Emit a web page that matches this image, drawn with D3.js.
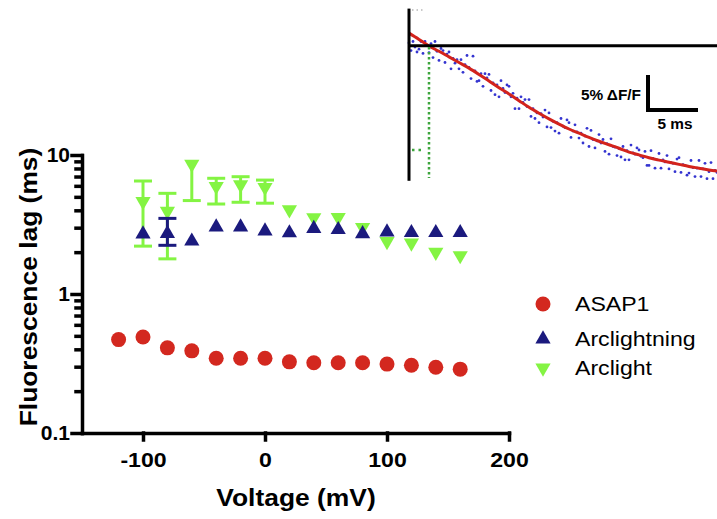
<!DOCTYPE html>
<html>
<head>
<meta charset="utf-8">
<script src="https://cdn.jsdelivr.net/npm/d3@7"></script>
<style>
  body { margin: 0; background: #fff; }
  svg { display: block; font-family: "Liberation Sans", Arial, Helvetica, sans-serif; }
</style>
</head>
<body>
<svg id="chart" width="717" height="519"></svg>
<script>
// main plot data (lag in ms vs step voltage in mV)
const asapVoltage = [-120, -100, -80, -60, -40, -20, 0, 20, 40, 60, 80, 100, 120, 140, 160];
const asap1Lag = [0.47, 0.49, 0.41, 0.39, 0.345, 0.345, 0.345, 0.325, 0.32, 0.32, 0.32, 0.313, 0.307, 0.297, 0.288];

const arcVoltage = [-100, -80, -60, -40, -20, 0, 20, 40, 60, 80, 100, 120, 140, 160];
const arclightningLag = [2.7, 2.72, 2.4, 3.03, 3.03, 2.84, 2.75, 2.96, 2.9, 2.71, 2.79, 2.76, 2.76, 2.76];
const arclightningLo = [null, 2.24, null, null, null, null, null, null, null, null, null, null, null, null];
const arclightningHi = [null, 3.5, null, null, null, null, null, null, null, null, null, null, null, null];

const arclightLag = [4.64, 3.94, 8.6, 5.95, 6.11, 5.86, 4.04, 3.55, 3.56, 3.02, 2.39, 2.33, 2.0, 1.89];
const arclightLo = [2.21, 1.79, 4.7, 4.44, 4.57, 4.5, null, null, null, null, null, null, null, null];
const arclightHi = [6.5, 5.3, null, 6.8, 6.98, 6.6, null, null, null, null, null, null, null, null];

const xTicks = [-100, 0, 100, 200];
const yMajor = [0.1, 1, 10];
const yMinor = [0.2, 0.3, 0.4, 0.5, 0.6, 0.7, 0.8, 0.9, 2, 3, 4, 5, 6, 7, 8, 9];
const legendNames = ["ASAP1", "Arclightning", "Arclight"];

// inset trace: fitted curve (ms, % dF/F) and raw samples every 0.2 ms
const fitTime = [0, 1, 2, 3, 4, 5, 6, 7, 8, 9, 10, 11, 12, 13, 14, 15, 16, 17, 18, 19, 20, 21, 22, 23, 24, 25, 26, 27, 28, 29, 30, 30.8];
const fitValue = [1.8, 0.9, -0.05, -0.8, -1.6, -2.4, -3.2, -4.1, -5.05, -6.0, -6.9, -7.85, -8.8, -9.65, -10.45, -11.2,
  -11.9, -12.5, -13.1, -13.65, -14.15, -14.65, -15.2, -15.6, -16.0, -16.35, -16.65, -16.95, -17.25, -17.5, -17.75, -17.9];
const traceStep = 0.2;
const traceValues = [
  0.4, -0.7, 0.6, -0.2, -0.9,
  -0.5, 0.6, -1.1, 0.6, 0.0,
  -1.0, 0.3, -1.7, 0.6, -0.8,
  -2.1, -0.4, -0.7, -2.4, -1.2,
  -0.9, -3.3, -1.8, -2.5, -2.0,
  -3.3, -2.0, -3.8, -2.7, -1.4,
  -3.1, -4.7, -1.5, -3.6, -5.1,
  -5.0, -4.0, -5.8, -4.0, -4.6,
  -4.1, -6.4, -5.3, -7.0, -5.6,
  -7.3, -5.0, -6.1, -6.7, -5.6,
  -5.8, -7.3, -6.8, -9.0, -7.5,
  -9.0, -7.3, -8.1, -7.7, -8.7,
  -7.7, -10.1, -9.0, -10.4, -9.6,
  -11.0, -9.7, -10.2, -9.2, -11.6,
  -9.6, -11.7, -10.8, -12.2, -11.0,
  -12.5, -10.4, -11.5, -11.7, -10.6,
  -11.0, -13.1, -12.2, -11.3, -12.3,
  -13.2, -12.5, -13.9, -12.9, -11.8,
  -14.4, -12.1, -13.4, -14.6, -13.6,
  -12.7, -13.9, -13.4, -15.1, -14.0,
  -15.5, -13.3, -14.4, -14.5, -15.7,
  -14.7, -15.9, -14.4, -16.3, -15.0,
  -16.3, -14.2, -15.3, -15.5, -14.6,
  -14.9, -15.8, -16.0, -15.1, -17.1,
  -17.1, -15.0, -16.1, -17.5, -16.3,
  -15.4, -17.5, -16.3, -16.6, -15.7,
  -17.6, -16.7, -16.8, -18.0, -16.2,
  -16.0, -18.1, -17.0, -17.1, -18.5,
  -18.2, -16.4, -17.4, -18.7, -17.5,
  -16.4, -18.7, -17.6, -16.8, -19.0,
  -18.0, -16.7, -19.0, -17.8, -18.1
];

const colors = { asap: "#d3281f", lightning: "#1b1a7e", light: "#84f443" };

const svg = d3.select("#chart");

// text in the figure is a bit wider than Arial, so stretch it horizontally
function stretchText(g, str, px, py, size, anchor, weight, rot) {
  return g.append("text")
    .attr("transform", `translate(${px},${py}) rotate(${rot || 0}) scale(1.1,1)`)
    .attr("text-anchor", anchor)
    .style("font-size", size + "px")
    .style("font-weight", weight)
    .attr("fill", "#000")
    .text(str);
}

// ---------- inset ----------
const tx = d3.scaleLinear().domain([0, 30.8]).range([409, 717]);
const ty = d3.scaleLinear().domain([0, -18]).range([45.7, 171.7]);
const inset = svg.append("g");

inset.selectAll("circle.trace")
  .data(traceValues)
  .join("circle")
  .attr("class", "trace")
  .attr("cx", (d, i) => tx(i * traceStep))
  .attr("cy", d => ty(d))
  .attr("r", 1.4)
  .attr("fill", "#3434d0");

inset.append("path")
  .datum(fitTime.map((t, i) => [t, fitValue[i]]))
  .attr("fill", "none")
  .attr("stroke", "#d3231c")
  .attr("stroke-width", 3)
  .attr("d", d3.line().x(d => tx(d[0])).y(d => ty(d[1])).curve(d3.curveMonotoneX));

inset.append("line")
  .attr("x1", tx(0)).attr("x2", tx(0))
  .attr("y1", ty(5.3)).attr("y2", ty(-19.3))
  .attr("stroke", "#000").attr("stroke-width", 3);
inset.append("line")
  .attr("x1", tx(0)).attr("x2", tx(30.8))
  .attr("y1", ty(0)).attr("y2", ty(0))
  .attr("stroke", "#000").attr("stroke-width", 3);

// green dotted markers of the lag
inset.append("line")
  .attr("x1", tx(2)).attr("x2", tx(2))
  .attr("y1", ty(-0.2)).attr("y2", ty(-18.9))
  .attr("stroke", "#3da53d").attr("stroke-width", 2.5).attr("stroke-dasharray", "2.5,2.5");
inset.append("line")
  .attr("x1", tx(0.3)).attr("x2", tx(1.4))
  .attr("y1", ty(-14.9)).attr("y2", ty(-14.9))
  .attr("stroke", "#3da53d").attr("stroke-width", 2.5).attr("stroke-dasharray", "2.5,4");
inset.append("line")
  .attr("x1", tx(0.3)).attr("x2", tx(1.6))
  .attr("y1", ty(5.1)).attr("y2", ty(5.1))
  .attr("stroke", "#b8b8b8").attr("stroke-width", 1.5).attr("stroke-dasharray", "1.5,3");

// scale bar
inset.append("path")
  .attr("d", `M${tx(23.9)},${ty(-4.2)}V${ty(-9.2)}H${tx(28.9)}`)
  .attr("fill", "none").attr("stroke", "#000").attr("stroke-width", 4);
stretchText(inset, "5% ΔF/F", 641, 100, 14, "end", "bold");
stretchText(inset, "5 ms", 675, 129, 14, "middle", "bold");

// ---------- main plot ----------
const x = d3.scaleLinear().domain([-150, 200]).range([82, 509]);
const y = d3.scaleLog().domain([0.1, 10]).range([433, 155]);
const plot = svg.append("g");

const xAxis = plot.append("g")
  .attr("transform", "translate(0,433)")
  .call(d3.axisBottom(x).tickValues(xTicks).tickSize(7).tickSizeOuter(0).tickPadding(12).tickFormat(d => String(d)));

const yAxis = plot.append("g")
  .attr("transform", "translate(82,0)")
  .call(d3.axisLeft(y).tickValues(yMajor).tickSize(10).tickSizeOuter(0).tickPadding(2).tickFormat(d => String(d)));

const yMinorAxis = plot.append("g")
  .attr("transform", "translate(82,0)")
  .call(d3.axisLeft(y).tickValues(yMinor).tickSize(6).tickFormat(""));
yMinorAxis.select(".domain").remove();

[xAxis, yAxis, yMinorAxis].forEach(a => {
  a.selectAll("path, line").attr("stroke", "#000").attr("stroke-width", 3.5).attr("stroke-linecap", "square");
  a.selectAll("text")
    .attr("fill", "#000")
    .style("font-size", "21px")
    .style("font-weight", "bold")
    .style("font-family", "'Liberation Sans', Arial, sans-serif");
});
xAxis.selectAll(".tick text").attr("transform", "scale(1.1,1)");

stretchText(plot, "Fluorescence lag (ms)", 37, 287, 24, "middle", "bold", -90);
stretchText(plot, "Voltage (mV)", 296, 506, 24, "middle", "bold");

// error bars; a missing upper value means the bar is hidden in the marker
function errorBars(g, volts, mean, lo, hi, color) {
  volts.forEach((v, i) => {
    if (lo[i] == null) return;
    const upper = hi[i] == null ? mean[i] : hi[i];
    g.append("line")
      .attr("x1", x(v)).attr("x2", x(v)).attr("y1", y(lo[i])).attr("y2", y(upper))
      .attr("stroke", color).attr("stroke-width", 3);
    [lo[i], hi[i]].filter(e => e != null).forEach(e => {
      g.append("line")
        .attr("x1", x(v) - 9).attr("x2", x(v) + 9)
        .attr("y1", y(e)).attr("y2", y(e))
        .attr("stroke", color).attr("stroke-width", 3);
    });
  });
}

const tri = d3.symbol(d3.symbolTriangle, 100);

// Arclight (down triangles) first, then Arclightning on top, ASAP1 last
const gLight = plot.append("g");
errorBars(gLight, arcVoltage, arclightLag, arclightLo, arclightHi, colors.light);
gLight.selectAll("path.pt")
  .data(arclightLag)
  .join("path")
  .attr("class", "pt")
  .attr("d", tri)
  .attr("transform", (d, i) => `translate(${x(arcVoltage[i])},${y(d)}) rotate(180)`)
  .attr("fill", colors.light);

const gLightning = plot.append("g");
errorBars(gLightning, arcVoltage, arclightningLag, arclightningLo, arclightningHi, colors.lightning);
gLightning.selectAll("path.pt")
  .data(arclightningLag)
  .join("path")
  .attr("class", "pt")
  .attr("d", tri)
  .attr("transform", (d, i) => `translate(${x(arcVoltage[i])},${y(d)})`)
  .attr("fill", colors.lightning);

plot.append("g")
  .selectAll("circle")
  .data(asap1Lag)
  .join("circle")
  .attr("cx", (d, i) => x(asapVoltage[i]))
  .attr("cy", d => y(d))
  .attr("r", 7.5)
  .attr("fill", colors.asap);

// legend
const legend = plot.append("g");
const rowY = [304, 339, 368];
legend.append("circle").attr("cx", 543).attr("cy", rowY[0]).attr("r", 7.5).attr("fill", colors.asap);
legend.append("path").attr("d", tri).attr("transform", `translate(543,${rowY[1]})`).attr("fill", colors.lightning);
legend.append("path").attr("d", tri).attr("transform", `translate(543,${rowY[2]}) rotate(180)`).attr("fill", colors.light);
legendNames.forEach((name, i) => {
  stretchText(legend, name, 575, rowY[i] + 7, 21, "start", "normal");
});
</script>
</body>
</html>
